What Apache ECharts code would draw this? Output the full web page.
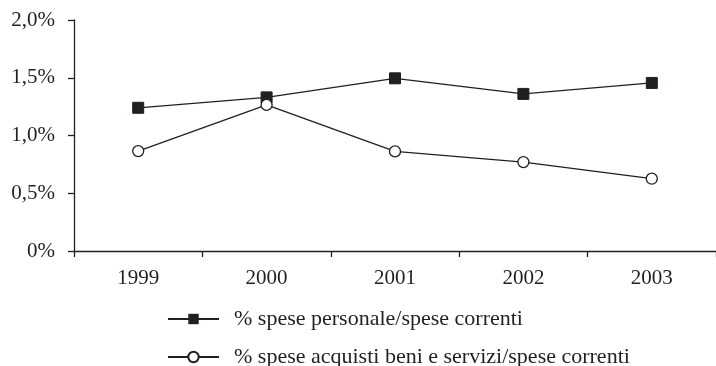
<!DOCTYPE html>
<html>
<head>
<meta charset="utf-8">
<script src="https://cdn.jsdelivr.net/npm/echarts@6/dist/echarts.min.js"></script>
<style>
  html, body { margin: 0; padding: 0; background: #fff; }
  #main { width: 716px; height: 366px; }
</style>
</head>
<body>
<div id="main"></div>
<script>
const years = ['1999', '2000', '2001', '2002', '2003'];
const personale = [1.24, 1.33, 1.495, 1.36, 1.455];
const acquisti = [0.865, 1.265, 0.862, 0.77, 0.626];
const yTicks = [0, 0.5, 1.0, 1.5, 2.0];

const ink = '#231f20';
const font = '"Liberation Serif", "DejaVu Serif", serif';

function pct(v) {
  if (v === 0) return '0%';
  return v.toFixed(1).replace('.', ',') + '%';
}

const myChart = echarts.init(document.getElementById('main'));
const option = {
  animation: false,
  textStyle: { fontFamily: font, color: ink },
  grid: { left: 74, top: 20, width: 646, height: 231 },
  legend: {
    orient: 'vertical',
    left: 167,
    top: 308,
    height: 80,
    padding: 0,
    itemWidth: 51,
    itemHeight: 13,
    itemGap: 16,
    align: 'left',
    textStyle: { fontFamily: font, fontSize: 22, color: ink, padding: [0, 0, 0, 10] },
    data: ['% spese personale/spese correnti', '% spese acquisti beni e servizi/spese correnti']
  },
  xAxis: {
    type: 'category',
    data: years,
    boundaryGap: true,
    axisLine: { lineStyle: { color: ink, width: 1.3 } },
    axisTick: { show: true, length: 6, inside: false, lineStyle: { color: ink, width: 1.3 } },
    axisLabel: { fontFamily: font, fontSize: 21, color: ink, margin: 17 }
  },
  yAxis: {
    type: 'value',
    min: yTicks[0],
    max: yTicks[yTicks.length - 1],
    interval: 0.5,
    splitLine: { show: false },
    axisLine: { show: true, lineStyle: { color: ink, width: 1.3 } },
    axisTick: { show: true, length: 6, lineStyle: { color: ink, width: 1.3 } },
    axisLabel: { fontFamily: font, fontSize: 21, color: ink, margin: 19, formatter: pct }
  },
  series: [
    {
      name: '% spese personale/spese correnti',
      type: 'line',
      data: personale,
      symbol: 'rect',
      symbolSize: 11,
      lineStyle: { color: ink, width: 1.3 },
      itemStyle: { color: ink, borderColor: ink }
    },
    {
      name: '% spese acquisti beni e servizi/spese correnti',
      type: 'line',
      data: acquisti,
      symbol: 'circle',
      symbolSize: 11,
      lineStyle: { color: ink, width: 1.3 },
      itemStyle: { color: '#fff', borderColor: ink, borderWidth: 1.3 }
    }
  ]
};
myChart.setOption(option);
</script>
</body>
</html>
